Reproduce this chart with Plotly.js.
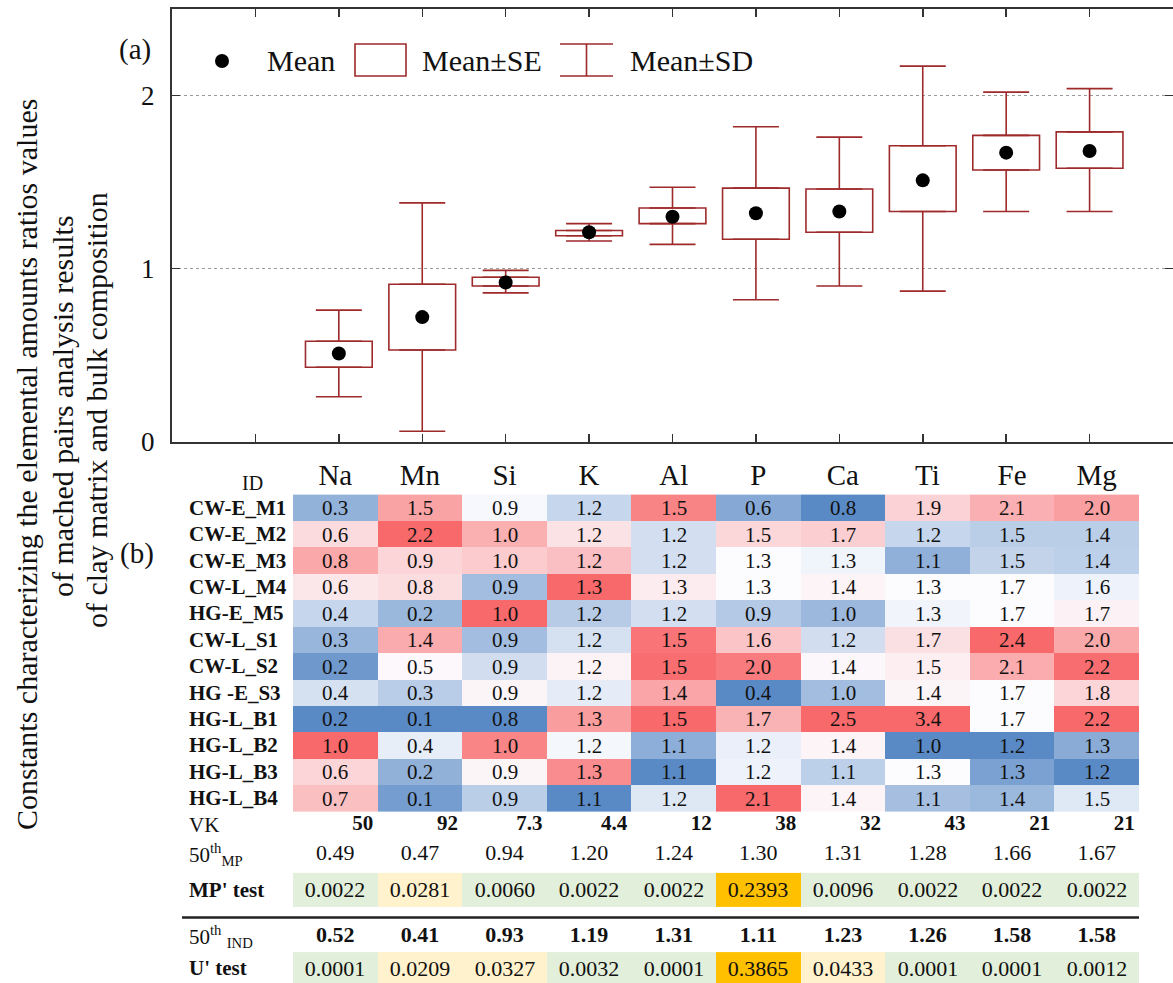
<!DOCTYPE html>
<html><head><meta charset="utf-8">
<script src="https://cdn.plot.ly/plotly-3.0.1.min.js"></script>
<style>html,body{margin:0;padding:0;background:#fff}#chart{width:1173px;height:983px}</style>
</head><body><div id="chart"></div>
<script>
// ---------- data ----------
const elements = ['Na','Mn','Si','K','Al','P','Ca','Ti','Fe','Mg'];
const meanVals = [0.51,0.72,0.92,1.21,1.30,1.32,1.33,1.51,1.67,1.68];
const seLow    = [0.43,0.53,0.90,1.19,1.26,1.17,1.21,1.33,1.57,1.58];
const seHigh   = [0.58,0.91,0.95,1.22,1.35,1.465,1.46,1.71,1.77,1.79];
const sdLow    = [0.26,0.06,0.86,1.16,1.14,0.82,0.90,0.87,1.33,1.33];
const sdHigh   = [0.76,1.38,0.99,1.26,1.47,1.82,1.76,2.17,2.02,2.04];

const sampleIDs = ['CW-E_M1','CW-E_M2','CW-E_M3','CW-L_M4','HG-E_M5','CW-L_S1','CW-L_S2','HG -E_S3','HG-L_B1','HG-L_B2','HG-L_B3','HG-L_B4'];
// ratios (rows = samples, columns = elements); shown rounded to 1 decimal
const ratios = [
  [0.28,1.50,0.93,1.17,1.46,0.64,0.80,1.90,2.06,2.00],
  [0.60,2.20,0.99,1.22,1.20,1.50,1.70,1.20,1.50,1.44],
  [0.78,0.90,0.97,1.24,1.20,1.30,1.30,1.10,1.52,1.445],
  [0.56,0.80,0.86,1.29,1.27,1.30,1.40,1.30,1.70,1.58],
  [0.38,0.21,1.04,1.16,1.20,0.90,1.02,1.28,1.70,1.66],
  [0.29,1.40,0.86,1.18,1.49,1.60,1.20,1.70,2.40,1.96],
  [0.21,0.47,0.90,1.21,1.50,2.00,1.38,1.50,2.08,2.20],
  [0.41,0.28,0.94,1.19,1.40,0.40,1.04,1.40,1.70,1.78],
  [0.17,0.07,0.80,1.26,1.51,1.70,2.50,3.40,1.70,2.22],
  [1.00,0.38,1.02,1.20,1.13,1.20,1.40,1.00,1.20,1.30],
  [0.62,0.19,0.94,1.27,1.08,1.22,1.13,1.30,1.30,1.17],
  [0.70,0.13,0.88,1.10,1.21,2.10,1.40,1.14,1.40,1.54]
];
const vk       = [50,92,7.3,4.4,12,38,32,43,21,21];
const median50MP  = [0.49,0.47,0.94,1.20,1.24,1.30,1.31,1.28,1.66,1.67];
const mpTest   = [0.0022,0.0281,0.0060,0.0022,0.0022,0.2393,0.0096,0.0022,0.0022,0.0022];
const median50IND = [0.52,0.41,0.93,1.19,1.31,1.11,1.23,1.26,1.58,1.58];
const uTest    = [0.0001,0.0209,0.0327,0.0032,0.0001,0.3865,0.0433,0.0001,0.0001,0.0012];

// ---------- helpers ----------
const W = 1173, H = 983;
const px = x => x / W;
const py = y => 1 - y / H;
const FONT = 'Liberation Serif, Times New Roman, serif';
const RED = '#9e2a2b';

const pos = elements.map((_, i) => i + 1);          // top-panel positions
const cols = elements.map((_, i) => i);             // table columns
const topTicks = [0].concat(pos);

function median(a){const s=[...a].sort((p,q)=>p-q);const n=s.length;return n%2?s[(n-1)/2]:(s[n/2-1]+s[n/2])/2;}
// Excel-style 3-colour scale (min / 50th percentile / max), per column
const shade = ratios.map(r => r.map(() => 0));
for (let j = 0; j < elements.length; j++) {
  const c = ratios.map(r => r[j]);
  const mn = Math.min(...c), mx = Math.max(...c), md = median(c);
  ratios.forEach((r, i) => {
    const v = r[j];
    shade[i][j] = v <= md ? (md > mn ? 0.5 * (v - mn) / (md - mn) : 0.5)
                          : 0.5 + 0.5 * (v - md) / (mx - md);
  });
}
const pClass = p => p < 0.01 ? 0 : (p < 0.05 ? 1 : 2);

// table row positions (row units)
const R = {header: -1.13, vk: 12.0, mp50: 13.15, mp: [13.83, 15.12], line: 15.52, ind50: 16.24, u: [16.83, 18.05]};

// ---------- traces ----------
const traces = [];
traces.push({type:'bar', x:pos, base:seLow, y:seHigh.map((v,i)=>v-seLow[i]), width:0.8,
  marker:{color:'#ffffff', line:{color:RED, width:1.6}}, xaxis:'x', yaxis:'y', hoverinfo:'skip', showlegend:false});
traces.push({type:'scatter', mode:'markers', x:pos, y:seHigh, marker:{size:1, opacity:0},
  error_y:{type:'data', symmetric:false, array:sdHigh.map((v,i)=>v-seHigh[i]), arrayminus:pos.map(()=>0), color:RED, thickness:1.6, width:23},
  xaxis:'x', yaxis:'y', hoverinfo:'skip', showlegend:false});
traces.push({type:'scatter', mode:'markers', x:pos, y:seLow, marker:{size:1, opacity:0},
  error_y:{type:'data', symmetric:false, array:pos.map(()=>0), arrayminus:seLow.map((v,i)=>v-sdLow[i]), color:RED, thickness:1.6, width:23},
  xaxis:'x', yaxis:'y', hoverinfo:'skip', showlegend:false});
traces.push({type:'scatter', mode:'markers', x:pos, y:meanVals, marker:{size:14, color:'#000'},
  xaxis:'x', yaxis:'y', hoverinfo:'skip', showlegend:false});

// heatmap of ratios
traces.push({type:'heatmap', x:cols, y:sampleIDs.map((_,i)=>i), z:shade, zmin:0, zmax:1,
  colorscale:[[0,'#5A8AC6'],[0.5,'#FCFCFF'],[1,'#F8696B']], showscale:false,
  text:ratios.map(r=>r.map(v=>v.toFixed(1))), texttemplate:'%{text}', textfont:{family:FONT, size:21, color:'#111'},
  xaxis:'x2', yaxis:'y2', hoverinfo:'skip'});
// p-value rows
const pScale = [[0,'#E2EFDA'],[0.5,'#FFF2CC'],[1,'#FFC000']];
traces.push({type:'heatmap', x:cols, y:R.mp, z:[mpTest.map(pClass)], zmin:0, zmax:2, colorscale:pScale, showscale:false,
  text:[mpTest.map(v=>v.toFixed(4))], texttemplate:'%{text}', textfont:{family:FONT, size:22, color:'#111'},
  xaxis:'x2', yaxis:'y2', hoverinfo:'skip'});
traces.push({type:'heatmap', x:cols, y:R.u, z:[uTest.map(pClass)], zmin:0, zmax:2, colorscale:pScale, showscale:false,
  text:[uTest.map(v=>v.toFixed(4))], texttemplate:'%{text}', textfont:{family:FONT, size:22, color:'#111'},
  xaxis:'x2', yaxis:'y2', hoverinfo:'skip'});
// text rows
traces.push({type:'scatter', mode:'text', x:cols, y:cols.map(()=>R.header), text:elements,
  textfont:{family:FONT, size:29, color:'#111'}, xaxis:'x2', yaxis:'y2', hoverinfo:'skip', showlegend:false, cliponaxis:false});
traces.push({type:'scatter', mode:'text', x:cols.map(c=>c+0.45), y:cols.map(()=>R.vk), text:vk.map(v=>'<b>'+v+'</b>'),
  textposition:'middle left', textfont:{family:FONT, size:21, color:'#111'}, xaxis:'x2', yaxis:'y2', hoverinfo:'skip', showlegend:false, cliponaxis:false});
traces.push({type:'scatter', mode:'text', x:cols, y:cols.map(()=>R.mp50), text:median50MP.map(v=>v.toFixed(2)),
  textfont:{family:FONT, size:22, color:'#111'}, xaxis:'x2', yaxis:'y2', hoverinfo:'skip', showlegend:false, cliponaxis:false});
traces.push({type:'scatter', mode:'text', x:cols, y:cols.map(()=>R.ind50), text:median50IND.map(v=>'<b>'+v.toFixed(2)+'</b>'),
  textfont:{family:FONT, size:22, color:'#111'}, xaxis:'x2', yaxis:'y2', hoverinfo:'skip', showlegend:false, cliponaxis:false});

// ---------- annotations ----------
const ann = [];
const A = (o) => ann.push(Object.assign({showarrow:false, font:{family:FONT, size:21, color:'#111'}}, o));
sampleIDs.forEach((id, i) => A({xref:'paper', yref:'y2', x:px(187), y:i, xanchor:'left', yanchor:'middle', text:'<b>'+id+'</b>'}));
A({xref:'paper', yref:'y2', x:px(252), y:-0.95, xanchor:'center', yanchor:'middle', text:'ID', font:{family:FONT, size:20, color:'#111'}});
A({xref:'paper', yref:'y2', x:px(187), y:R.vk, xanchor:'left', yanchor:'middle', text:'VK'});
A({xref:'paper', yref:'y2', x:px(187), y:R.mp50, xanchor:'left', yanchor:'middle', text:'50<sup>th</sup><sub>MP</sub>'});
A({xref:'paper', yref:'y2', x:px(187), y:(R.mp[0]+R.mp[1])/2, xanchor:'left', yanchor:'middle', text:"<b>MP' test</b>"});
A({xref:'paper', yref:'y2', x:px(187), y:R.ind50, xanchor:'left', yanchor:'middle', text:'50<sup>th</sup> <sub>IND</sub>'});
A({xref:'paper', yref:'y2', x:px(187), y:(R.u[0]+R.u[1])/2, xanchor:'left', yanchor:'middle', text:"<b>U' test</b>"});
// panel labels
A({xref:'paper', yref:'paper', x:px(135), y:py(50), xanchor:'center', yanchor:'middle', text:'(a)', font:{family:FONT, size:29, color:'#111'}});
A({xref:'paper', yref:'paper', x:px(137), y:py(553), xanchor:'center', yanchor:'middle', text:'(b)', font:{family:FONT, size:29, color:'#111'}});
// legend texts
A({xref:'paper', yref:'paper', x:px(265), y:py(61), xanchor:'left', yanchor:'middle', text:'Mean', font:{family:FONT, size:30, color:'#111'}});
A({xref:'paper', yref:'paper', x:px(420), y:py(61), xanchor:'left', yanchor:'middle', text:'Mean±SE', font:{family:FONT, size:30, color:'#111'}});
A({xref:'paper', yref:'paper', x:px(628), y:py(61), xanchor:'left', yanchor:'middle', text:'Mean±SD', font:{family:FONT, size:30, color:'#111'}});
// y title (three lines)
const tFont = {family:FONT, size:30, color:'#111'};
A({xref:'paper', yref:'paper', x:px(27), y:py(465), textangle:-90, xanchor:'center', yanchor:'middle', text:'Constants characterizing the elemental amounts ratios values', font:tFont});
A({xref:'paper', yref:'paper', x:px(63), y:py(406), textangle:-90, xanchor:'center', yanchor:'middle', text:'of mached pairs analysis results', font:tFont});
A({xref:'paper', yref:'paper', x:px(97), y:py(410), textangle:-90, xanchor:'center', yanchor:'middle', text:'of clay matrix and bulk composition', font:tFont});

// ---------- shapes (legend symbols, separator) ----------
const shapes = [
  {type:'circle', xref:'paper', yref:'paper', x0:px(215), x1:px(229), y0:py(54), y1:py(68), fillcolor:'#000', line:{width:0}},
  {type:'rect', xref:'paper', yref:'paper', x0:px(355), x1:px(406), y0:py(44), y1:py(76), line:{color:RED, width:1.6}},
  {type:'line', xref:'paper', yref:'paper', x0:px(560), x1:px(613), y0:py(44), y1:py(44), line:{color:RED, width:1.6}},
  {type:'line', xref:'paper', yref:'paper', x0:px(560), x1:px(613), y0:py(76), y1:py(76), line:{color:RED, width:1.6}},
  {type:'line', xref:'paper', yref:'paper', x0:px(586.5), x1:px(586.5), y0:py(44), y1:py(76), line:{color:RED, width:1.6}},
  {type:'line', xref:'paper', yref:'y2', x0:px(182), x1:px(1139), y0:R.line, y1:R.line, line:{color:'#222', width:2.5}}
];

const layout = {
  width:W, height:H, margin:{l:0, r:0, t:0, b:0}, paper_bgcolor:'#fff', plot_bgcolor:'rgba(0,0,0,0)',
  showlegend:false, hovermode:false, font:{family:FONT, color:'#111'},
  xaxis:{domain:[px(172), 1], range:[-1, 11], tickvals:topTicks, showticklabels:false, ticks:'inside', ticklen:8,
         tickwidth:1.5, tickcolor:'#333', mirror:'allticks', showline:true, linewidth:2, linecolor:'#333',
         showgrid:false, zeroline:false, fixedrange:true},
  yaxis:{domain:[py(441.7), py(9)], range:[0, 2.5], tickvals:[0,1,2], ticktext:['0','1','2'], ticks:'inside', ticklen:8,
         tickwidth:1.5, tickcolor:'#333', mirror:'allticks', showline:true, linewidth:2, linecolor:'#333',
         showgrid:true, gridcolor:'#9a9a9a', griddash:'dot', gridwidth:1, zeroline:false,
         tickfont:{family:FONT, size:27, color:'#111'}, ticklabelstandoff:10, fixedrange:true},
  xaxis2:{domain:[px(293), px(1139)], range:[-0.5, 9.5], visible:false, anchor:'y2', fixedrange:true},
  yaxis2:{domain:[0, py(461.6)], range:[18, -1.75], visible:false, anchor:'x2', fixedrange:true},
  annotations:ann, shapes:shapes
};

Plotly.newPlot('chart', traces, layout, {staticPlot:true, displayModeBar:false});
</script>
</body></html>
